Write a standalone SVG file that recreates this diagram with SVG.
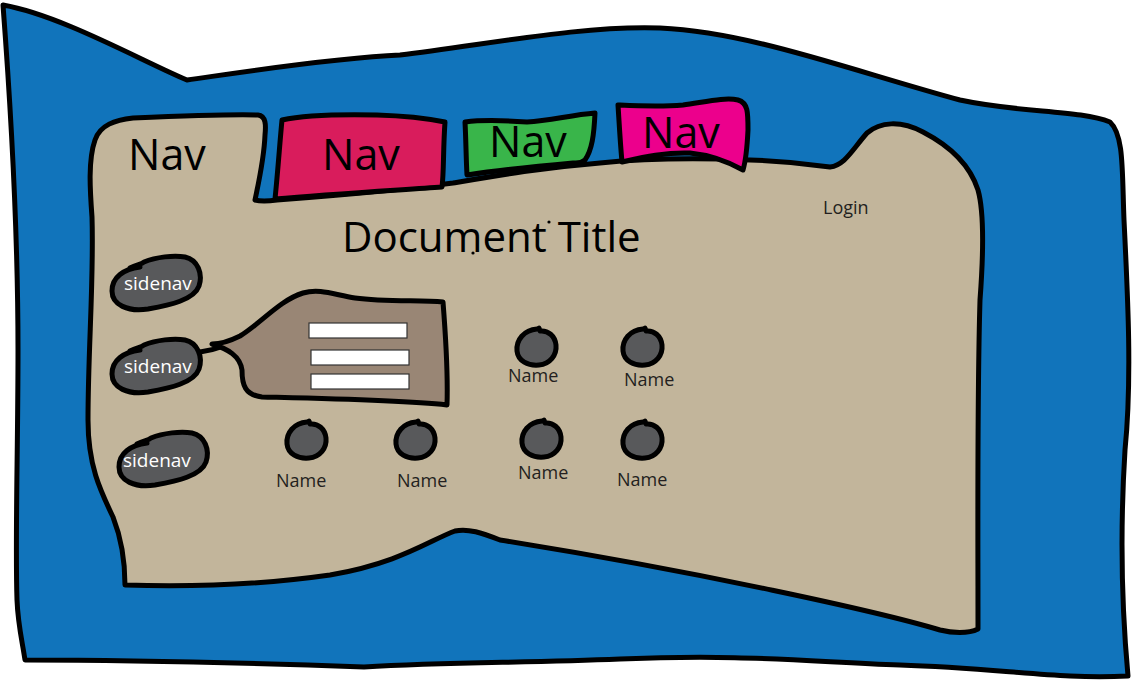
<svg xmlns="http://www.w3.org/2000/svg" width="1136" height="682" viewBox="0 0 1136 682">
  <style>
    .ink { stroke: #000; stroke-width: 5; stroke-linejoin: round; stroke-linecap: round; }
    .frame { fill: #1174bb; }
    .page { fill: #c2b59b; }
    .tab-label { font-family: "Open Sans", "Noto Sans", sans-serif; font-size: 43px; fill: #000; }
    .title { font-family: "Open Sans", "Noto Sans", sans-serif; font-size: 42px; fill: #000; }
    .small { font-family: "Open Sans", "Noto Sans", sans-serif; font-size: 18px; fill: #231f20; }
    .side-label { font-family: "Open Sans", "Noto Sans", sans-serif; font-size: 19px; fill: #fff; }
    .blob { fill: #58595b; }
    .field { fill: #fff; stroke: #333; stroke-width: 1.2; }
  </style>
  <defs>
    <path id="pebble" d="M 20,13 C 27,9 31,10 34,7 C 46,2 64,0 75,2 C 88,5 93,19 89,31 C 84,45 60,50 38,54 C 18,57 2,50 2,36 C 2,22 14,14 30,12"/>
    <path id="dot" d="M 1,-19 C -12,-18 -20,-8 -19,3 C -18,13 -8,18 3,17 C 14,16 21,7 20,-3 C 19,-12 12,-18 4,-17 L 3,-20"/>
  </defs>

  <!-- outer window -->
  <g id="window">
    <path class="frame ink" d="M 3,5 C 60,15 140,60 187,80 C 230,74 330,58 400,55 C 480,46 580,25 660,28 C 750,32 850,70 960,100 C 1020,113 1080,110 1110,122 C 1124,135 1122,170 1124,220 C 1128,300 1132,380 1125,450 C 1120,530 1121,600 1128,676 C 1060,680 1000,668 900,665 C 800,661 740,654 620,659 C 520,663 450,662 364,667 C 280,664 150,660 25,660 C 22,640 18,625 17,600 C 15,540 18,450 18,350 C 18,250 14,150 3,5 Z"/>
  </g>

  <!-- page body -->
  <g id="page">
    <path class="page ink" d="M 92,217 C 90,190 88,160 95,140 C 100,125 115,120 133,118 C 180,116 230,114 258,115 C 266,116 266,125 265,135 C 264,160 258,185 255,200 C 262,202 270,201 277,200 C 330,196 400,190 453,183 C 500,175 540,168 600,163 C 650,158 700,158 750,160 C 790,161 810,164 830,167 C 845,165 852,150 867,133 C 880,122 900,120 923,132 C 950,146 970,165 978,190 C 985,215 983,260 980,300 C 977,400 978,520 978,629 C 968,634 952,633 940,630 C 880,612 700,572 500,540 C 482,533 468,528 455,531 C 430,540 400,563 330,575 C 260,585 190,587 125,585 C 125,560 122,540 113,517 C 100,490 88,465 88,420 C 88,350 94,280 92,217 Z"/>
    <text class="tab-label" x="128" y="170">Nav</text>
    <text class="title" x="342" y="252">Document Title</text>
    <circle cx="473" cy="253" r="1.6" fill="#000"/>
    <circle cx="549" cy="222" r="1.6" fill="#000"/>
    <text class="small" x="823" y="214" font-size="19">Login</text>
  </g>

  <!-- top tabs -->
  <g id="tab-red">
    <path class="ink" fill="#d91c5c" d="M 282,120 C 300,116 330,114 377,115 C 410,116 430,119 445,122 C 443,150 444,172 442,187 C 400,190 330,194 275,199 C 278,170 280,140 282,120 Z"/>
    <text class="tab-label" x="322" y="170">Nav</text>
  </g>
  <g id="tab-green">
    <path class="ink" fill="#39b54a" d="M 465,122 C 480,120 500,120 527,122 C 550,121 570,115 595,113 C 594,135 592,150 585,160 C 580,164 577,163 573,163 C 540,166 500,170 467,175 C 466,158 466,140 465,122 Z"/>
    <text class="tab-label" x="489" y="157">Nav</text>
  </g>
  <g id="tab-pink">
    <path class="ink" fill="#ec008c" d="M 618,105 C 640,106 660,107 683,105 C 705,102 725,97 738,100 C 748,103 748,112 748,130 C 747,150 746,160 743,170 C 725,160 710,155 690,153 C 665,152 640,158 622,162 C 620,140 619,120 618,105 Z"/>
    <text class="tab-label" x="642" y="148">Nav</text>
  </g>

  <!-- side navigation -->
  <g id="sidenav-1">
    <use href="#pebble" class="blob ink" transform="translate(110,255)"/>
    <text class="side-label" x="124" y="290">sidenav</text>
  </g>
  <g id="sidenav-2">
    <use href="#pebble" class="blob ink" transform="translate(110,338)"/>
    <text class="side-label" x="124" y="373">sidenav</text>
  </g>
  <g id="sidenav-3">
    <use href="#pebble" class="blob ink" transform="translate(117,431)"/>
    <text class="side-label" x="123" y="467">sidenav</text>
  </g>

  <!-- link from the second side item to its panel -->
  <g id="connectors">
    <path class="ink" fill="none" d="M 200,352 C 208,351 216,349 224,346"/>
  </g>

  <!-- form panel -->
  <g id="form-panel">
    <path class="ink" fill="#998675" d="M 212,344 C 222,344 230,341 240,336 C 260,324 280,300 303,293 C 320,288 335,295 355,298 C 385,302 420,300 443,302 C 446,340 448,375 447,405 C 400,400 300,398 262,397 C 245,395 242,385 242,370 C 240,356 228,349 212,344 Z"/>
    <rect class="field" x="309" y="323" width="98" height="15"/>
    <rect class="field" x="311" y="350" width="98" height="15"/>
    <rect class="field" x="311" y="374" width="98" height="15"/>
  </g>

  <!-- people -->
  <g id="person-1">
    <use href="#dot" class="blob ink" transform="translate(536,348)"/>
    <text class="small" x="508" y="382">Name</text>
  </g>
  <g id="person-2">
    <use href="#dot" class="blob ink" transform="translate(642,348)"/>
    <text class="small" x="624" y="386">Name</text>
  </g>
  <g id="person-3">
    <use href="#dot" class="blob ink" transform="translate(306,441)"/>
    <text class="small" x="276" y="487">Name</text>
  </g>
  <g id="person-4">
    <use href="#dot" class="blob ink" transform="translate(415,441)"/>
    <text class="small" x="397" y="487">Name</text>
  </g>
  <g id="person-5">
    <use href="#dot" class="blob ink" transform="translate(541,440)"/>
    <text class="small" x="518" y="479">Name</text>
  </g>
  <g id="person-6">
    <use href="#dot" class="blob ink" transform="translate(642,441)"/>
    <text class="small" x="617" y="486">Name</text>
  </g>
</svg>
